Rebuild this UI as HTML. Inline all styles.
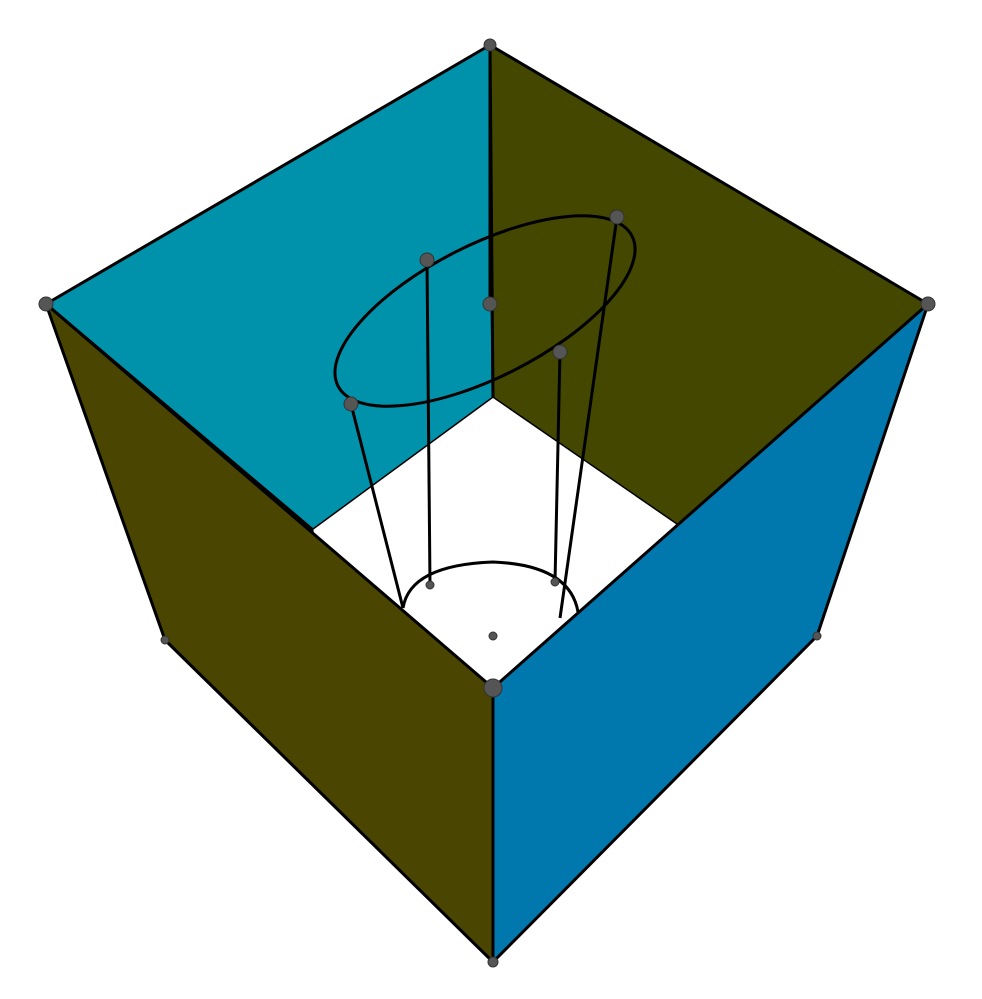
<!DOCTYPE html>
<html><head><meta charset="utf-8"><style>html,body{margin:0;padding:0;background:#fff;width:982px;height:999px;overflow:hidden}</style></head>
<body>
<svg width="982" height="999" viewBox="0 0 982 999">
<g stroke="#000" stroke-width="3" stroke-linejoin="round">
<polygon points="490,45 46,304 313,530 493,398" fill="#0092AB"/>
<polygon points="490,45 928,304 680,527 493,398" fill="#434700"/>
<polygon points="313,530 493,398 680,527 493,688" fill="#fff" stroke="none"/>
<polygon points="46,304 493,688 493,962 165,640" fill="#4A4500"/>
<polygon points="928,304 493,688 493,962 817,636" fill="#0078AE"/>
</g>
<g fill="none" stroke="#000" stroke-width="3">
<line x1="490" y1="45" x2="490" y2="300"/>
<ellipse cx="485" cy="311" rx="165" ry="66" transform="rotate(-27 485 311)"/>
<path d="M403,608 Q410,565 493,562 Q570,565 578,612"/>
<line x1="351" y1="404" x2="403" y2="608"/>
<line x1="427" y1="260" x2="430" y2="585"/>
<line x1="560" y1="352" x2="555" y2="582"/>
<line x1="617" y1="217" x2="560" y2="618"/>
</g>
<g fill="#555" stroke="#333" stroke-width="1">
<circle cx="490" cy="45" r="6"/>
<circle cx="46" cy="304" r="7"/>
<circle cx="928" cy="304" r="7"/>
<circle cx="493" cy="688" r="9"/>
<circle cx="493" cy="962" r="5"/>
<circle cx="165" cy="640" r="4"/>
<circle cx="817" cy="636" r="4"/>
<circle cx="493" cy="636" r="4"/>
<circle cx="490" cy="304" r="7"/>
<circle cx="617" cy="217" r="7"/>
<circle cx="427" cy="260" r="7"/>
<circle cx="351" cy="404" r="7"/>
<circle cx="560" cy="352" r="7"/>
<circle cx="430" cy="585" r="4"/>
<circle cx="555" cy="582" r="4"/>
</g>
</svg>
</body></html>
